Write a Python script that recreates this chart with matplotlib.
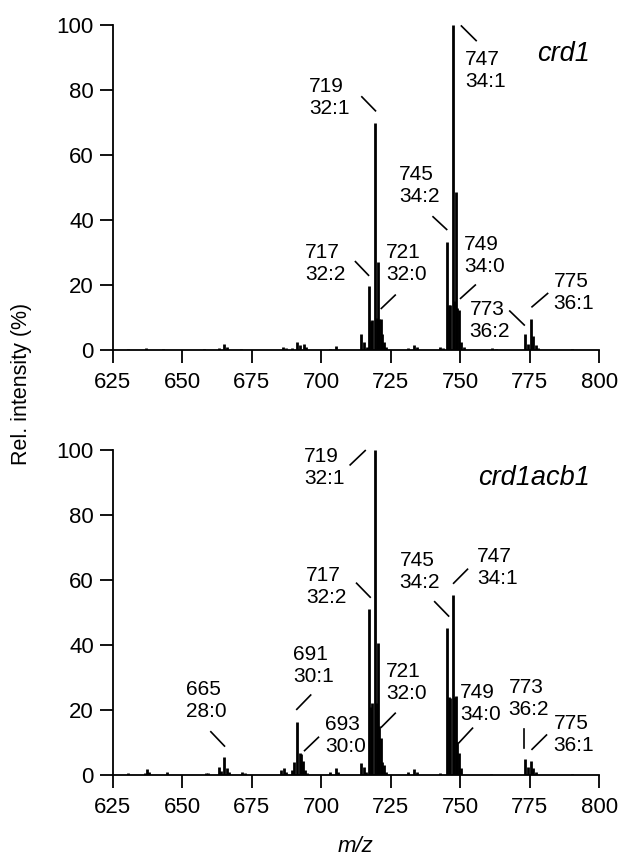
import matplotlib
matplotlib.use("Agg")
import matplotlib.pyplot as plt

plt.rcParams['font.family'] = ['Liberation Sans', 'DejaVu Sans']

# m/z positions and relative intensities
crd1_mz = [630.5, 636.8, 643.0, 658.0, 663.2, 665.2, 666.0, 671.0, 686.4, 687.4,
           689.3, 691.3, 692.3, 693.7, 694.5, 703.0, 705.2, 714.3, 715.3, 716.3,
           717.3, 718.0, 718.4, 719.4, 720.0, 720.4, 720.8, 721.4, 722.0, 722.4,
           723.3, 731.3, 733.4, 734.3, 742.8, 743.8, 745.3, 745.8, 746.3, 747.35,
           747.8, 748.3, 748.8, 749.4, 750.3, 751.3, 761.3, 763.0, 773.3, 774.3,
           775.5, 776.3, 777.2, 778.0, 790.0]
crd1_int = [0.4, 0.6, 0.3, 0.4, 0.6, 2.0, 1.0, 0.4, 1.0, 0.6,
            0.6, 2.5, 1.5, 2.0, 0.8, 0.4, 1.2, 4.8, 2.5, 1.0,
            19.7, 9.0, 9.2, 69.7, 10.0, 27.0, 9.5, 9.4, 5.0, 2.5,
            0.8, 0.5, 1.7, 0.8, 0.8, 0.5, 33.3, 14.0, 13.8, 100.0,
            15.0, 48.7, 13.0, 12.3, 2.5, 0.8, 0.5, 0.3, 4.8, 2.0,
            9.7, 4.3, 1.5, 0.5, 0.2]

acb1_mz = [630.6, 636.5, 637.2, 638.0, 644.6, 658.4, 659.3, 663.1, 664.1, 665.2,
           666.1, 667.0, 671.4, 672.4, 685.7, 686.6, 687.5, 689.3, 690.1, 691.3,
           692.2, 692.7, 693.3, 694.2, 695.0, 703.0, 705.2, 706.0, 714.3, 715.3,
           716.0, 717.3, 718.0, 718.4, 719.4, 720.0, 720.4, 720.8, 721.4, 722.0,
           722.4, 723.3, 731.2, 733.4, 734.3, 742.8, 745.3, 745.8, 746.3, 747.35,
           747.8, 748.3, 748.8, 749.4, 750.3, 761.0, 773.3, 774.3, 775.5, 776.3,
           777.2, 790.0]
acb1_int = [0.7, 0.5, 1.7, 0.8, 1.0, 0.7, 0.5, 2.6, 1.2, 5.6,
            2.3, 1.0, 1.0, 0.5, 1.5, 2.3, 1.0, 1.5, 4.1, 16.4,
            6.9, 6.5, 4.3, 1.5, 0.6, 1.0, 2.0, 1.0, 3.8, 2.6,
            1.0, 51.1, 21.0, 22.3, 100.0, 22.0, 40.7, 15.0, 11.3, 4.0,
            3.0, 0.8, 1.0, 1.7, 0.8, 0.5, 45.3, 24.0, 23.6, 55.4,
            24.0, 24.3, 10.0, 6.9, 2.0, 0.3, 4.9, 2.6, 4.4, 2.3,
            1.0, 0.3]

# peak labels: text, text centre (x, y), leader line (x0, y0, x1, y1)
crd1_labels = [
    ("719\n32:1", 702.9, 77.7, 714.6, 77.9, 719.5, 73.6),
    ("717\n32:2", 701.5, 26.5, 712.3, 27.2, 717.0, 23.0),
    ("721\n32:0", 730.5, 26.5, 721.6, 12.8, 726.6, 16.9),
    ("745\n34:2", 735.2, 50.6, 740.2, 41.0, 745.1, 37.1),
    ("747\n34:1", 759.1, 85.9, 750.4, 99.7, 755.7, 95.2),
    ("749\n34:0", 758.7, 29.0, 750.1, 15.9, 755.4, 20.0),
    ("773\n36:2", 760.6, 9.0, 767.8, 12.0, 773.0, 7.7),
    ("775\n36:1", 790.8, 17.7, 775.8, 13.3, 781.4, 17.4),
]
acb1_labels = [
    ("665\n28:0", 658.8, 22.9, 660.3, 13.3, 665.2, 8.9),
    ("691\n30:1", 697.2, 33.8, 691.2, 20.2, 696.2, 24.6),
    ("693\n30:0", 708.7, 12.3, 694.0, 7.5, 699.0, 11.6),
    ("719\n32:1", 701.2, 94.7, 710.4, 95.4, 715.8, 99.8),
    ("717\n32:2", 701.8, 57.9, 712.7, 59.0, 717.6, 54.7),
    ("721\n32:0", 730.5, 28.5, 721.6, 14.7, 726.6, 19.0),
    ("745\n34:2", 735.5, 62.6, 740.8, 53.3, 745.8, 48.9),
    ("747\n34:1", 763.3, 63.9, 747.6, 59.0, 752.6, 63.3),
    ("749\n34:0", 757.3, 22.1, 749.5, 9.9, 754.4, 14.4),
    ("773\n36:2", 774.7, 23.4, 773.0, 14.1, 773.0, 8.2),
    ("775\n36:1", 790.8, 12.6, 775.8, 7.9, 781.0, 12.3),
]

x_ticks = [625, 650, 675, 700, 725, 750, 775, 800]
y_ticks = [0, 20, 40, 60, 80, 100]


def draw_panel(ax, mz, inten, labels, name, name_y):
    ax.vlines(mz, 0, inten, color='black', linewidth=2.0)
    ax.set_xlim(625, 800)
    ax.set_ylim(0, 100)
    ax.set_xticks(x_ticks)
    ax.set_yticks(y_ticks)
    ax.spines['top'].set_visible(False)
    ax.spines['right'].set_visible(False)
    for s in ('left', 'bottom'):
        ax.spines[s].set_linewidth(1.3)
    ax.tick_params(direction='out', length=9.5, width=1.3, labelsize=16)
    ax.tick_params(axis='x', pad=6)
    ax.tick_params(axis='y', pad=4)
    for txt, tx, ty, x0, y0, x1, y1 in labels:
        ax.text(tx, ty, txt, fontsize=15, ha='center', va='center',
                multialignment='left', linespacing=1.2)
        ax.plot([x0, x1], [y0, y1], color='black', linewidth=1.2,
                clip_on=False)
    ax.text(796.5, name_y, name, fontsize=19.5, style='italic',
            ha='right', va='baseline')


fig = plt.figure(figsize=(6.23, 8.59), dpi=100)
ax1 = fig.add_axes([0.1809, 0.5925, 0.7811, 0.3784])
ax2 = fig.add_axes([0.1809, 0.0978, 0.7811, 0.3784])

draw_panel(ax1, crd1_mz, crd1_int, crd1_labels, 'crd1', 88.9)
draw_panel(ax2, acb1_mz, acb1_int, acb1_labels, 'crd1acb1', 89.2)

fig.text(0.035, 1 - 384 / 859, 'Rel. intensity (%)', rotation=90,
         fontsize=15.5, ha='center', va='center')
fig.text(356 / 623, 1 - 847 / 859, 'm/z', style='italic', fontsize=16,
         ha='center', va='center')

fig.savefig('out.png', dpi=100)
